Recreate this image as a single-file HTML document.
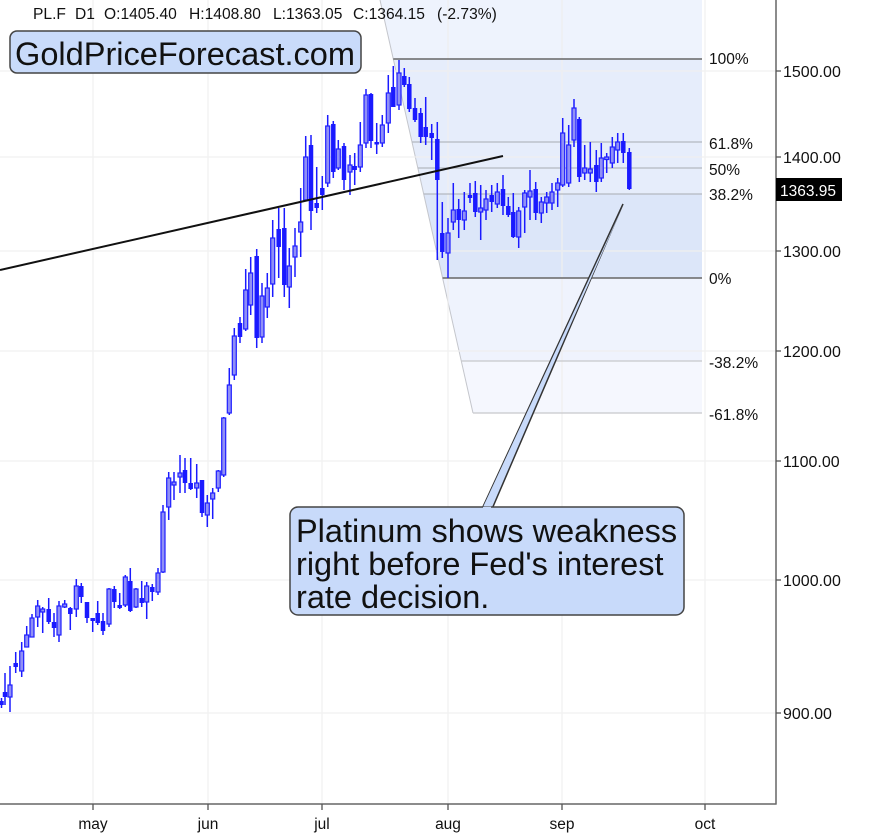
<!DOCTYPE html>
<html><head><meta charset="utf-8"><style>
html,body{margin:0;padding:0;background:#fff}
svg{display:block}
text{font-family:"Liberation Sans",Arial,sans-serif;fill:#111}
.w{stroke:#1a1aff;stroke-width:1.5}
.f{fill:#1a1aff}
.h{fill:#9090f6;stroke:#1f1fff;stroke-width:1.2}
.g{stroke:#efefef;stroke-width:1.5}
</style></head><body>
<svg width="875" height="839" viewBox="0 0 875 839" xmlns="http://www.w3.org/2000/svg">
<rect width="875" height="839" fill="#fff"/>
<!-- fib shading -->
<polygon points="380,0 702,0 702,59 393.3,59" fill="#eef3fd"/>
<polygon points="393.3,59 702,59 702,194 423.7,194" fill="#e6edfb"/>
<polygon points="423.7,194 702,194 702,278 442.6,278" fill="#dce6f9"/>
<polygon points="442.6,278 702,278 702,361 461.3,361" fill="#eff3fd"/>
<polygon points="461.3,361 702,361 702,413 473,413" fill="#f5f7fe"/>
<line x1="380" y1="0" x2="473" y2="413" stroke="#c4c6cc" stroke-width="1"/>
<!-- grid -->
<g class="g" opacity="0.8">
<line x1="0" y1="71" x2="776" y2="71"/>
<line x1="0" y1="157" x2="776" y2="157"/>
<line x1="0" y1="251" x2="776" y2="251"/>
<line x1="0" y1="351" x2="776" y2="351"/>
<line x1="0" y1="461" x2="776" y2="461"/>
<line x1="0" y1="580" x2="776" y2="580"/>
<line x1="0" y1="713" x2="776" y2="713"/>
<line x1="93" y1="0" x2="93" y2="804"/>
<line x1="208" y1="0" x2="208" y2="804"/>
<line x1="322" y1="0" x2="322" y2="804"/>
<line x1="448" y1="0" x2="448" y2="804"/>
<line x1="562" y1="0" x2="562" y2="804"/>
<line x1="705" y1="0" x2="705" y2="804"/>
</g>
<!-- fib lines -->
<line x1="393.3" y1="59" x2="702" y2="59" stroke="#666" stroke-width="1.5"/>
<line x1="412" y1="142" x2="702" y2="142" stroke="#b4b8c0" stroke-width="1.2"/>
<line x1="417.8" y1="168" x2="702" y2="168" stroke="#b4b8c0" stroke-width="1.2"/>
<line x1="423.7" y1="194" x2="702" y2="194" stroke="#b4b8c0" stroke-width="1.2"/>
<line x1="442.6" y1="278" x2="702" y2="278" stroke="#666" stroke-width="1.5"/>
<line x1="461.3" y1="361" x2="702" y2="361" stroke="#c8c8cc" stroke-width="1.2"/>
<line x1="473" y1="413" x2="702" y2="413" stroke="#c8c8cc" stroke-width="1.2"/>
<g font-size="15.5">
<text x="709" y="64">100%</text>
<text x="709" y="149">61.8%</text>
<text x="709" y="175">50%</text>
<text x="709" y="200">38.2%</text>
<text x="709" y="284">0%</text>
<text x="709" y="368">-38.2%</text>
<text x="709" y="420">-61.8%</text>
</g>
<!-- candles -->
<g class="w">
<line x1="1.5" y1="698" x2="1.5" y2="708"/><line x1="5" y1="673" x2="5" y2="705"/><line x1="10" y1="666" x2="10" y2="712"/><line x1="15.7" y1="652" x2="15.7" y2="673"/><line x1="21.7" y1="642" x2="21.7" y2="677"/><line x1="26.7" y1="626" x2="26.7" y2="647"/><line x1="32" y1="614" x2="32" y2="637"/><line x1="37.7" y1="600" x2="37.7" y2="627"/><line x1="42.7" y1="607" x2="42.7" y2="633"/><line x1="48.7" y1="598" x2="48.7" y2="624"/><line x1="54" y1="613" x2="54" y2="637"/><line x1="59" y1="601" x2="59" y2="642"/><line x1="64.7" y1="600" x2="64.7" y2="608"/><line x1="70.3" y1="607" x2="70.3" y2="630"/><line x1="76.3" y1="579" x2="76.3" y2="617"/><line x1="81.3" y1="583" x2="81.3" y2="603"/><line x1="87" y1="602" x2="87" y2="623"/><line x1="92.7" y1="618" x2="92.7" y2="632"/><line x1="97.7" y1="601" x2="97.7" y2="625"/><line x1="103" y1="613" x2="103" y2="635"/><line x1="109" y1="588" x2="109" y2="627"/><line x1="114.3" y1="586" x2="114.3" y2="608"/><line x1="119.7" y1="593" x2="119.7" y2="609"/><line x1="125.3" y1="575" x2="125.3" y2="607"/><line x1="130.3" y1="568" x2="130.3" y2="612"/><line x1="136" y1="588" x2="136" y2="608"/><line x1="141.7" y1="581" x2="141.7" y2="607"/><line x1="146.7" y1="582" x2="146.7" y2="619"/><line x1="152.3" y1="584" x2="152.3" y2="601"/><line x1="158" y1="568" x2="158" y2="595"/><line x1="163" y1="505" x2="163" y2="573"/><line x1="168.7" y1="472" x2="168.7" y2="520"/><line x1="174" y1="472" x2="174" y2="500"/><line x1="180" y1="455" x2="180" y2="493"/><line x1="185" y1="458" x2="185" y2="493"/><line x1="190.7" y1="458" x2="190.7" y2="490"/><line x1="196.7" y1="464" x2="196.7" y2="498"/><line x1="202" y1="480" x2="202" y2="517"/><line x1="207.3" y1="495" x2="207.3" y2="527"/><line x1="212.7" y1="488" x2="212.7" y2="519"/><line x1="218.3" y1="470" x2="218.3" y2="492"/><line x1="223.7" y1="417" x2="223.7" y2="477"/><line x1="229.3" y1="368" x2="229.3" y2="415"/><line x1="234.3" y1="328" x2="234.3" y2="380"/><line x1="240" y1="317" x2="240" y2="343"/><line x1="245.7" y1="269" x2="245.7" y2="331"/><line x1="250.7" y1="257" x2="250.7" y2="315"/><line x1="256.7" y1="249" x2="256.7" y2="348"/><line x1="262" y1="283" x2="262" y2="343"/><line x1="267.3" y1="273" x2="267.3" y2="318"/><line x1="272.7" y1="220" x2="272.7" y2="297"/><line x1="278.7" y1="208" x2="278.7" y2="278"/><line x1="284.3" y1="208" x2="284.3" y2="297"/><line x1="289.3" y1="248" x2="289.3" y2="308"/><line x1="295" y1="228" x2="295" y2="277"/><line x1="300.7" y1="188" x2="300.7" y2="257"/><line x1="305.7" y1="136" x2="305.7" y2="200"/><line x1="311" y1="135" x2="311" y2="230"/><line x1="316.7" y1="167" x2="316.7" y2="213"/><line x1="322.3" y1="176" x2="322.3" y2="210"/><line x1="327.7" y1="115" x2="327.7" y2="187"/><line x1="333.3" y1="121" x2="333.3" y2="178"/><line x1="338.3" y1="140" x2="338.3" y2="170"/><line x1="344" y1="143" x2="344" y2="190"/><line x1="350" y1="155" x2="350" y2="195"/><line x1="354.7" y1="153" x2="354.7" y2="185"/><line x1="360.3" y1="122" x2="360.3" y2="172"/><line x1="366" y1="89" x2="366" y2="148"/><line x1="371" y1="93" x2="371" y2="148"/><line x1="376.7" y1="123" x2="376.7" y2="154"/><line x1="382.3" y1="115" x2="382.3" y2="147"/><line x1="388.3" y1="75" x2="388.3" y2="133"/><line x1="393.3" y1="66" x2="393.3" y2="107"/><line x1="399" y1="60" x2="399" y2="110"/><line x1="404.3" y1="68" x2="404.3" y2="87"/><line x1="409.3" y1="77" x2="409.3" y2="112"/><line x1="415" y1="98" x2="415" y2="122"/><line x1="420.7" y1="108" x2="420.7" y2="143"/><line x1="425.7" y1="97" x2="425.7" y2="145"/><line x1="431.7" y1="124" x2="431.7" y2="160"/><line x1="437.3" y1="122" x2="437.3" y2="260"/><line x1="442.3" y1="202" x2="442.3" y2="258"/><line x1="448" y1="218" x2="448" y2="278"/><line x1="453.3" y1="183" x2="453.3" y2="230"/><line x1="458.7" y1="199" x2="458.7" y2="238"/><line x1="464.3" y1="192" x2="464.3" y2="230"/><line x1="470" y1="183" x2="470" y2="203"/><line x1="475.3" y1="181" x2="475.3" y2="217"/><line x1="480.7" y1="185" x2="480.7" y2="240"/><line x1="486" y1="190" x2="486" y2="220"/><line x1="491.7" y1="185" x2="491.7" y2="212"/><line x1="497.3" y1="183" x2="497.3" y2="208"/><line x1="503" y1="175" x2="503" y2="215"/><line x1="508.3" y1="197" x2="508.3" y2="217"/><line x1="513.3" y1="193" x2="513.3" y2="238"/><line x1="518.7" y1="207" x2="518.7" y2="248"/><line x1="524.7" y1="190" x2="524.7" y2="233"/><line x1="530" y1="170" x2="530" y2="220"/><line x1="535.7" y1="182" x2="535.7" y2="220"/><line x1="541.3" y1="197" x2="541.3" y2="223"/><line x1="546.7" y1="192" x2="546.7" y2="213"/><line x1="552" y1="183" x2="552" y2="210"/><line x1="557.7" y1="178" x2="557.7" y2="207"/><line x1="562.7" y1="118" x2="562.7" y2="187"/><line x1="568.7" y1="125" x2="568.7" y2="187"/><line x1="574" y1="99" x2="574" y2="147"/><line x1="579.3" y1="117" x2="579.3" y2="182"/><line x1="584.7" y1="145" x2="584.7" y2="180"/><line x1="590.3" y1="142" x2="590.3" y2="182"/><line x1="596.3" y1="150" x2="596.3" y2="192"/><line x1="601.3" y1="143" x2="601.3" y2="182"/><line x1="606.7" y1="153" x2="606.7" y2="173"/><line x1="612.3" y1="137" x2="612.3" y2="168"/><line x1="617.7" y1="133" x2="617.7" y2="163"/><line x1="623.3" y1="133" x2="623.3" y2="163"/><line x1="629.3" y1="148" x2="629.3" y2="190"/>
</g>
<g class="f" transform="translate(-0.25,0)">
<rect x="-0.5" y="701" width="4.5" height="4"/><rect x="3" y="692" width="4.5" height="5"/><rect x="13.7" y="663" width="4.5" height="4"/><rect x="46.7" y="609" width="4.5" height="13"/><rect x="52" y="622" width="4.5" height="6"/><rect x="68.3" y="608" width="4.5" height="6"/><rect x="79.3" y="586" width="4.5" height="11"/><rect x="85" y="602" width="4.5" height="16"/><rect x="90.7" y="618" width="4.5" height="3"/><rect x="95.7" y="613" width="4.5" height="10"/><rect x="101" y="621" width="4.5" height="10"/><rect x="112.3" y="589" width="4.5" height="13"/><rect x="117.7" y="605" width="4.5" height="3"/><rect x="128.3" y="581" width="4.5" height="30"/><rect x="139.7" y="598" width="4.5" height="5"/><rect x="150.3" y="587" width="4.5" height="5"/><rect x="183" y="470" width="4.5" height="13"/><rect x="188.7" y="483" width="4.5" height="6"/><rect x="200" y="480" width="4.5" height="33"/><rect x="238" y="323" width="4.5" height="14"/><rect x="254.7" y="256" width="4.5" height="82"/><rect x="276.7" y="229" width="4.5" height="18"/><rect x="282.3" y="228" width="4.5" height="57"/><rect x="309" y="145" width="4.5" height="66"/><rect x="314.7" y="203" width="4.5" height="5"/><rect x="320.3" y="188" width="4.5" height="7"/><rect x="331.3" y="124" width="4.5" height="48"/><rect x="342" y="146" width="4.5" height="34"/><rect x="352.7" y="166" width="4.5" height="4"/><rect x="369" y="94" width="4.5" height="47"/><rect x="374.7" y="142" width="4.5" height="2.5"/><rect x="391.3" y="87" width="4.5" height="20"/><rect x="402.3" y="76" width="4.5" height="9"/><rect x="407.3" y="84" width="4.5" height="25"/><rect x="413" y="108" width="4.5" height="12"/><rect x="418.7" y="113" width="4.5" height="24"/><rect x="423.7" y="127" width="4.5" height="10"/><rect x="429.7" y="133" width="4.5" height="5"/><rect x="435.3" y="139" width="4.5" height="41"/><rect x="440.3" y="233" width="4.5" height="19"/><rect x="456.7" y="209" width="4.5" height="11"/><rect x="468" y="195" width="4.5" height="3"/><rect x="473.3" y="193" width="4.5" height="19"/><rect x="489.7" y="195" width="4.5" height="7"/><rect x="501" y="189" width="4.5" height="17"/><rect x="506.3" y="206" width="4.5" height="9"/><rect x="511.3" y="212" width="4.5" height="25"/><rect x="533.7" y="189" width="4.5" height="24"/><rect x="577.3" y="119" width="4.5" height="58"/><rect x="594.3" y="165" width="4.5" height="17"/><rect x="621.3" y="141" width="4.5" height="12"/><rect x="627.3" y="152" width="4.5" height="37"/>
</g>
<g class="h" transform="translate(-0.25,0)">
<rect x="8.25" y="685" width="4" height="12"/><rect x="19.95" y="651" width="4" height="20"/><rect x="24.95" y="635" width="4" height="12"/><rect x="30.25" y="618" width="4" height="19"/><rect x="35.95" y="606" width="4" height="11"/><rect x="40.95" y="609" width="4" height="3"/><rect x="57.25" y="606" width="4" height="29"/><rect x="62.95" y="604" width="4" height="3"/><rect x="74.55" y="586" width="4" height="23"/><rect x="107.25" y="589" width="4" height="35"/><rect x="123.55" y="577" width="4" height="28"/><rect x="134.25" y="589" width="4" height="18"/><rect x="144.95" y="586" width="4" height="16"/><rect x="156.25" y="573" width="4" height="19"/><rect x="161.25" y="512" width="4" height="60"/><rect x="166.95" y="478" width="4" height="29"/><rect x="172.25" y="482" width="4" height="3"/><rect x="178.25" y="473" width="4" height="4"/><rect x="194.95" y="483" width="4" height="5"/><rect x="205.55" y="503" width="4" height="12"/><rect x="210.95" y="493" width="4" height="6"/><rect x="216.55" y="471" width="4" height="17"/><rect x="221.95" y="418" width="4" height="57"/><rect x="227.55" y="385" width="4" height="28"/><rect x="232.55" y="336" width="4" height="39"/><rect x="243.95" y="290" width="4" height="39"/><rect x="248.95" y="273" width="4" height="32"/><rect x="260.25" y="296" width="4" height="41"/><rect x="265.55" y="288" width="4" height="19"/><rect x="270.95" y="238" width="4" height="46"/><rect x="287.55" y="266" width="4" height="21"/><rect x="293.25" y="246" width="4" height="11"/><rect x="298.95" y="222" width="4" height="10"/><rect x="303.95" y="157" width="4" height="43"/><rect x="325.95" y="126" width="4" height="57"/><rect x="336.55" y="149" width="4" height="19"/><rect x="348.25" y="165" width="4" height="7"/><rect x="358.55" y="145" width="4" height="22"/><rect x="364.25" y="95" width="4" height="48"/><rect x="380.55" y="125" width="4" height="18"/><rect x="386.55" y="93" width="4" height="30"/><rect x="397.25" y="73" width="4" height="32"/><rect x="446.25" y="233" width="4" height="20"/><rect x="451.55" y="210" width="4" height="12"/><rect x="462.55" y="211" width="4" height="9"/><rect x="478.95" y="208" width="4" height="4"/><rect x="484.25" y="199" width="4" height="11"/><rect x="495.55" y="192" width="4" height="12"/><rect x="516.95" y="211" width="4" height="26"/><rect x="522.95" y="193" width="4" height="14"/><rect x="528.25" y="191" width="4" height="6"/><rect x="539.55" y="202" width="4" height="11"/><rect x="544.95" y="197" width="4" height="6"/><rect x="550.25" y="192" width="4" height="11"/><rect x="555.95" y="183" width="4" height="7"/><rect x="560.95" y="133" width="4" height="52"/><rect x="566.95" y="145" width="4" height="38"/><rect x="572.25" y="108" width="4" height="32"/><rect x="582.95" y="168" width="4" height="5"/><rect x="588.55" y="169" width="4" height="4"/><rect x="599.55" y="158" width="4" height="20"/><rect x="604.95" y="157" width="4" height="2.5"/><rect x="610.55" y="147" width="4" height="16"/><rect x="615.95" y="142" width="4" height="8"/>
</g>
<!-- trendline -->
<line x1="0" y1="270" x2="503" y2="156" stroke="#111" stroke-width="2"/>
<!-- axes -->
<line x1="776" y1="0" x2="776" y2="804.5" stroke="#666" stroke-width="1.5"/>
<line x1="0" y1="804" x2="776.5" y2="804" stroke="#666" stroke-width="1.5"/>
<g stroke="#555" stroke-width="1.3">
<line x1="776" y1="71" x2="781" y2="71"/><line x1="776" y1="157" x2="781" y2="157"/><line x1="776" y1="251" x2="781" y2="251"/><line x1="776" y1="351" x2="781" y2="351"/><line x1="776" y1="461" x2="781" y2="461"/><line x1="776" y1="580" x2="781" y2="580"/><line x1="776" y1="713" x2="781" y2="713"/>
<line x1="93" y1="804" x2="93" y2="810"/><line x1="208" y1="804" x2="208" y2="810"/><line x1="322" y1="804" x2="322" y2="810"/><line x1="448" y1="804" x2="448" y2="810"/><line x1="562" y1="804" x2="562" y2="810"/><line x1="705" y1="804" x2="705" y2="810"/>
</g>
<g font-size="16">
<text x="783" y="77">1500.00</text>
<text x="783" y="163">1400.00</text>
<text x="783" y="257">1300.00</text>
<text x="783" y="357">1200.00</text>
<text x="783" y="467">1100.00</text>
<text x="783" y="586">1000.00</text>
<text x="783" y="719">900.00</text>
</g>
<rect x="776" y="178" width="66" height="23" fill="#000"/>
<text x="780" y="196" font-size="15.5" style="fill:#fff">1363.95</text>
<g font-size="15.5" text-anchor="middle">
<text x="93" y="829">may</text>
<text x="208" y="829">jun</text>
<text x="322" y="829">jul</text>
<text x="448" y="829">aug</text>
<text x="562" y="829">sep</text>
<text x="705" y="829">oct</text>
</g>
<!-- header -->
<g font-size="15.6">
<text x="33" y="19">PL.F</text>
<text x="75" y="19">D1</text>
<text x="104" y="19">O:1405.40</text>
<text x="189" y="19">H:1408.80</text>
<text x="273" y="19">L:1363.05</text>
<text x="353" y="19">C:1364.15</text>
<text x="437" y="19">(-2.73%)</text>
</g>
<rect x="10" y="31" width="351" height="42" rx="7" fill="#c9dbfa" stroke="#444" stroke-width="1.5"/>
<text x="15" y="65" font-size="32" textLength="340" lengthAdjust="spacingAndGlyphs">GoldPriceForecast.com</text>
<!-- callout -->
<polygon points="482,509 623,204 492,509" fill="#c8dafa" stroke="#333" stroke-width="1.5"/>
<rect x="290" y="507" width="394" height="108" rx="8" fill="#c8dafa" stroke="#444" stroke-width="1.5"/>
<polygon points="483.5,506 623,206 490.5,506" fill="#c8dafa"/>
<line x1="483" y1="508" x2="491" y2="508" stroke="#c8dafa" stroke-width="2.5"/>
<g font-size="32.5">
<text x="296" y="542">Platinum shows weakness</text>
<text x="296" y="575">right before Fed's interest</text>
<text x="296" y="608">rate decision.</text>
</g>
</svg>
</body></html>
